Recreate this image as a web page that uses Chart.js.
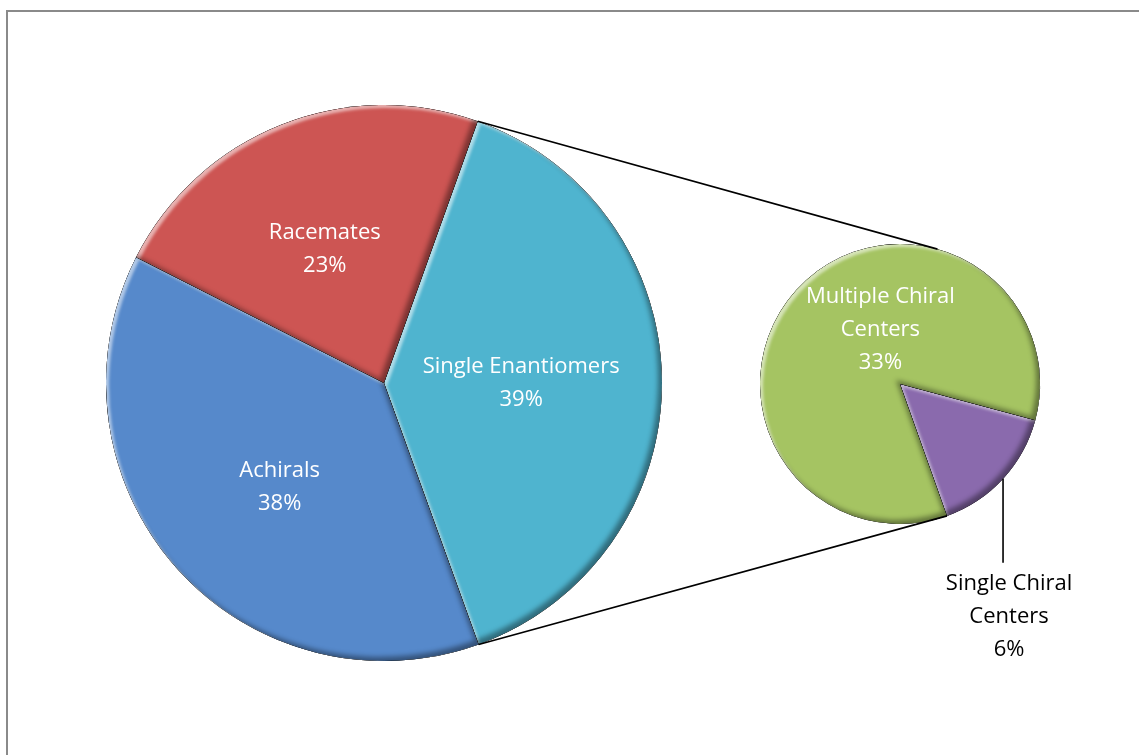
<!DOCTYPE html>
<html>
<head>
<meta charset="utf-8">
<script src="https://cdn.jsdelivr.net/npm/chart.js@4/dist/chart.umd.min.js"></script>
<style>
  html, body { margin: 0; padding: 0; background: #fff; overflow: hidden; }
  #wrap { position: relative; width: 1139px; height: 755px; }
  #frame { position: absolute; left: 6px; top: 10px; width: 1200px; height: 800px; border: 2px solid #8a8a8a; box-sizing: border-box; }
  canvas { position: absolute; left: 0; top: 0; }
</style>
</head>
<body>
<div id="wrap">
  <div id="frame"></div>
  <canvas id="mainPie" width="1139" height="755"></canvas>
  <canvas id="subPie" width="1139" height="755"></canvas>
</div>
<script>
// main pie (clockwise from the connector edge)
const mainLabels = ['Single Enantiomers', 'Achirals', 'Racemates'];
const mainValues = [39, 38, 23];
const mainColors = ['#4fb4cf', '#5689cb', '#cd5553'];

// secondary pie, splits the Single Enantiomers slice
const subLabels = ['Single Chiral Centers', 'Multiple Chiral Centers'];
const subValues = [6, 33];
const subColors = ['#8a6aad', '#a5c462'];
const subShare = [6, 33]; // % of all

const FONT = '"Open Sans", "Noto Sans", sans-serif';
const labelDist = [0.49, 0.52, 0.545]; // how far out each main label sits

function slicePath(ctx, a) {
    ctx.moveTo(a.x, a.y);
    ctx.arc(a.x, a.y, a.outerRadius, a.startAngle, a.endAngle);
    ctx.closePath();
}

// soft bevel: light on the upper left edges, shade on the lower right
const bevel = {
    id: 'bevel',
    afterDatasetsDraw(chart) {
        const ctx = chart.ctx;
        chart.getDatasetMeta(0).data.forEach(arc => {
            const a = arc.getProps(['x', 'y', 'startAngle', 'endAngle', 'outerRadius'], true);
            ctx.save();
            ctx.beginPath();
            slicePath(ctx, a);
            ctx.clip();
            [[3, 3, 'rgba(255,255,255,0.55)', 3], [-4, -4, 'rgba(0,0,0,0.4)', 5]].forEach(([ox, oy, col, blur]) => {
                ctx.beginPath();
                ctx.rect(-3000, -3000, 7000, 7000);
                slicePath(ctx, a);
                ctx.shadowColor = col;
                ctx.shadowBlur = blur;
                ctx.shadowOffsetX = ox;
                ctx.shadowOffsetY = oy;
                ctx.fillStyle = '#000';
                ctx.fill('evenodd');
            });
            ctx.restore();
        });
    }
};

function drawLines(ctx, lines, cx, cy, color) {
    ctx.fillStyle = color;
    ctx.textAlign = 'center';
    ctx.textBaseline = 'middle';
    const lh = 33;
    lines.forEach((t, i) => {
        ctx.fillText(t, cx, cy + (i - (lines.length - 1) / 2) * lh);
    });
}

const mainText = {
    id: 'mainText',
    afterDatasetsDraw(chart) {
        const ctx = chart.ctx;
        ctx.save();
        ctx.font = '22px ' + FONT;
        chart.getDatasetMeta(0).data.forEach((arc, i) => {
            const a = arc.getProps(['x', 'y', 'startAngle', 'endAngle', 'outerRadius'], true);
            const mid = (a.startAngle + a.endAngle) / 2 - 0.03;
            const r = a.outerRadius * labelDist[i];
            drawLines(ctx, [mainLabels[i], mainValues[i] + '%'],
                a.x + Math.cos(mid) * r + 1, a.y + Math.sin(mid) * r + 5, '#fff');
        });
        ctx.restore();
    }
};

const mainChart = new Chart(document.getElementById('mainPie'), {
    type: 'pie',
    data: {
        labels: mainLabels,
        datasets: [{ data: mainValues, backgroundColor: mainColors, borderWidth: 0 }]
    },
    options: {
        responsive: false,
        animation: false,
        rotation: 19.7,
        layout: { padding: { left: 106, top: 105, right: 477, bottom: 94 } },
        plugins: { legend: { display: false }, tooltip: { enabled: false } }
    },
    plugins: [bevel, mainText]
});

// tangent point on a circle seen from an outside point
function tangent(px, py, cx, cy, r, side) {
    const d = Math.hypot(px - cx, py - cy);
    const base = Math.atan2(py - cy, px - cx);
    const t = base + side * Math.acos(r / d);
    return [cx + Math.cos(t) * r, cy + Math.sin(t) * r];
}

const subText = {
    id: 'subText',
    afterDatasetsDraw(chart) {
        const ctx = chart.ctx;
        const arcs = chart.getDatasetMeta(0).data;
        const g = arcs[1].getProps(['x', 'y', 'outerRadius'], true);
        const p = arcs[0].getProps(['x', 'y', 'startAngle', 'endAngle', 'outerRadius'], true);

        // series lines from the split slice edges to the small pie
        const big = mainChart.getDatasetMeta(0).data[0].getProps(['x', 'y', 'startAngle', 'endAngle', 'outerRadius'], true);
        const p1 = [big.x + Math.cos(big.startAngle) * big.outerRadius, big.y + Math.sin(big.startAngle) * big.outerRadius];
        const p2 = [big.x + Math.cos(big.endAngle) * big.outerRadius, big.y + Math.sin(big.endAngle) * big.outerRadius];
        const t1 = tangent(p1[0], p1[1], g.x, g.y, g.outerRadius, 1);
        const t2 = [g.x + Math.cos(p.endAngle) * g.outerRadius, g.y + Math.sin(p.endAngle) * g.outerRadius];
        ctx.save();
        ctx.strokeStyle = '#000';
        ctx.lineWidth = 1.6;
        ctx.beginPath();
        ctx.moveTo(p1[0], p1[1]); ctx.lineTo(t1[0], t1[1]);
        ctx.moveTo(p2[0], p2[1]); ctx.lineTo(t2[0], t2[1]);
        ctx.stroke();

        // leader for the small purple slice
        const lx = g.x + g.outerRadius * 0.736;
        const ly = g.y + Math.sqrt(g.outerRadius ** 2 - (lx - g.x) ** 2);
        ctx.beginPath();
        ctx.moveTo(lx, ly);
        ctx.lineTo(lx, ly + 84);
        ctx.stroke();

        ctx.font = '22px ' + FONT;
        drawLines(ctx, ['Single Chiral', 'Centers', subShare[0] + '%'], lx + 6, ly + 138, '#000');
        drawLines(ctx, ['Multiple Chiral', 'Centers', subShare[1] + '%'], g.x - 0.14 * g.outerRadius, g.y - 0.39 * g.outerRadius, '#fff');
        ctx.restore();
    }
};

new Chart(document.getElementById('subPie'), {
    type: 'pie',
    data: {
        labels: subLabels,
        datasets: [{ data: subValues, backgroundColor: subColors, borderWidth: 0 }]
    },
    options: {
        responsive: false,
        animation: false,
        rotation: 105,
        layout: { padding: { left: 760, top: 244, right: 99, bottom: 231 } },
        plugins: { legend: { display: false }, tooltip: { enabled: false } }
    },
    plugins: [bevel, subText]
});
</script>
</body>
</html>
